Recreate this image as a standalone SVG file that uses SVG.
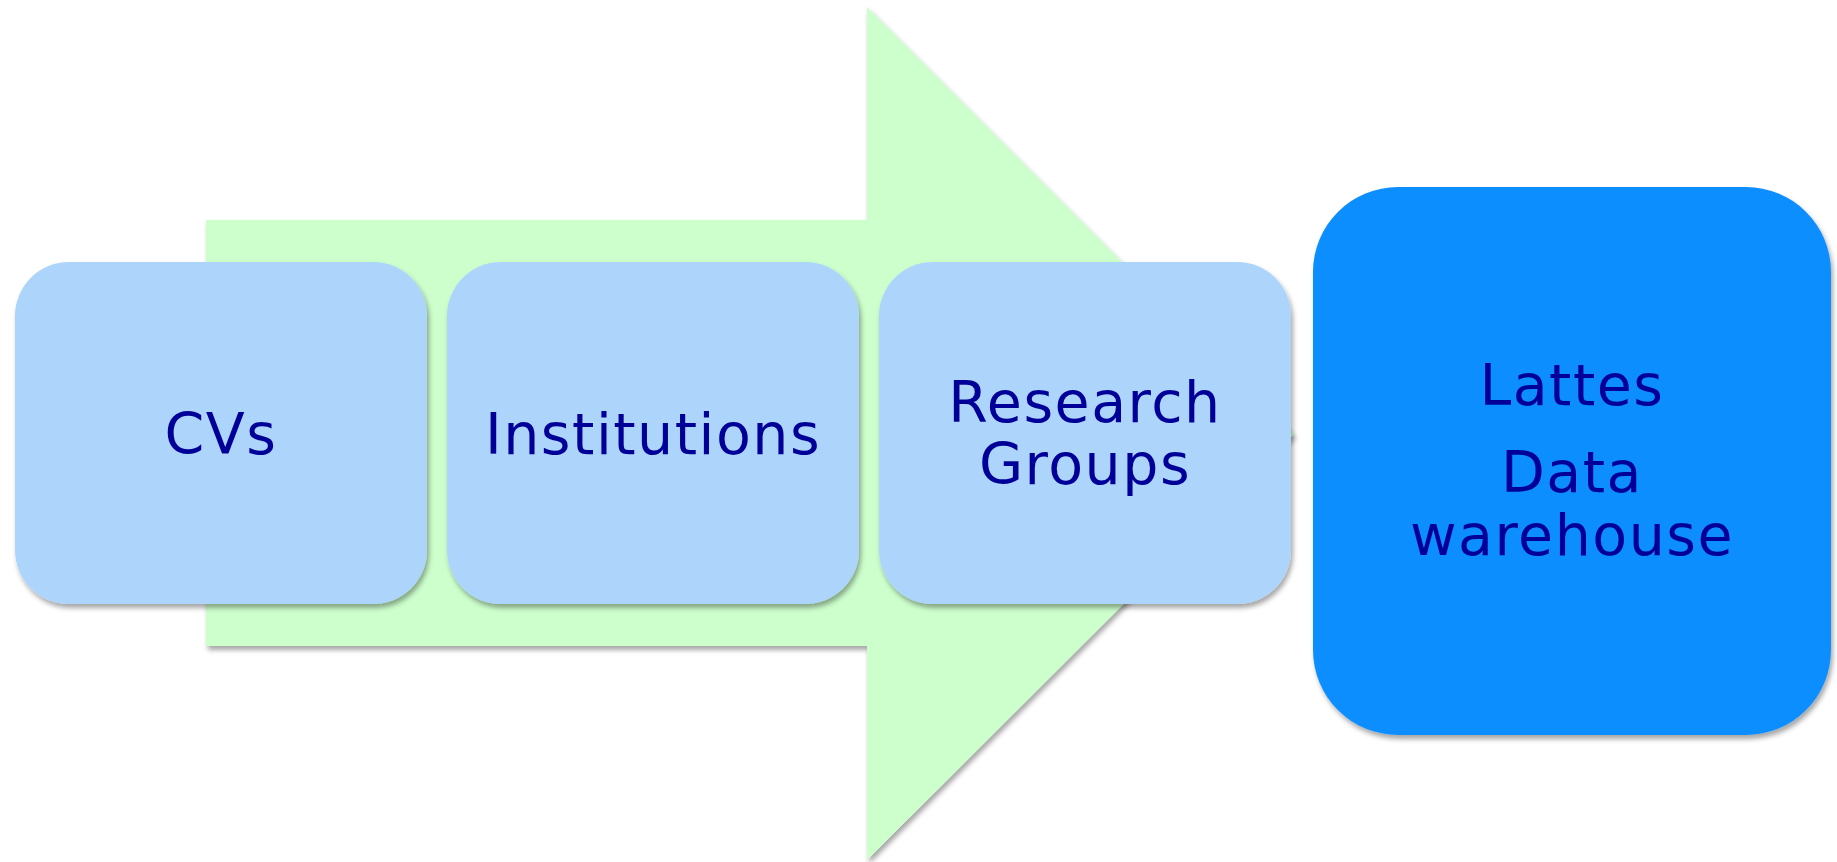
<svg xmlns="http://www.w3.org/2000/svg" width="1837" height="862" viewBox="0 0 1837 862">
<defs>
<style>
.box{fill:#ADD5FC;filter:url(#sh)}
.txt{font-family:"DejaVu Sans",Verdana,sans-serif;font-size:57px;letter-spacing:1.5px;fill:#000099;text-anchor:middle}
</style>
<filter id="sh" x="-10%" y="-10%" width="120%" height="125%">
<feDropShadow dx="2" dy="4" stdDeviation="2.5" flood-color="#000" flood-opacity="0.35"/>
</filter>
</defs>
<rect width="1837" height="862" fill="#fff"/>
<g id="arrow">
<polygon points="206,220 867,220 867,7 1294,434 867,860 867,646 206,646" fill="#CCFFCC" filter="url(#sh)"/>
</g>
<g id="connectors"></g>
<g id="cvs">
<rect class="box" x="15" y="262" width="412" height="342" rx="54"/>
<text class="txt" x="221" y="454">CVs</text>
</g>
<g id="institutions">
<rect class="box" x="447" y="262" width="412" height="342" rx="54"/>
<text class="txt" x="653" y="454">Institutions</text>
</g>
<g id="research">
<rect class="box" x="879" y="262" width="412" height="342" rx="54"/>
<text class="txt" x="1085" y="422">Research</text>
<text class="txt" x="1085" y="484">Groups</text>
</g>
<g id="lattes">
<rect x="1313" y="187" width="518" height="548" rx="85" fill="#0F8EFF" filter="url(#sh)"/>
<text class="txt" x="1572" y="405">Lattes</text>
<text class="txt" x="1572" y="492">Data</text>
<text class="txt" x="1572" y="555">warehouse</text>
</g>
</svg>
